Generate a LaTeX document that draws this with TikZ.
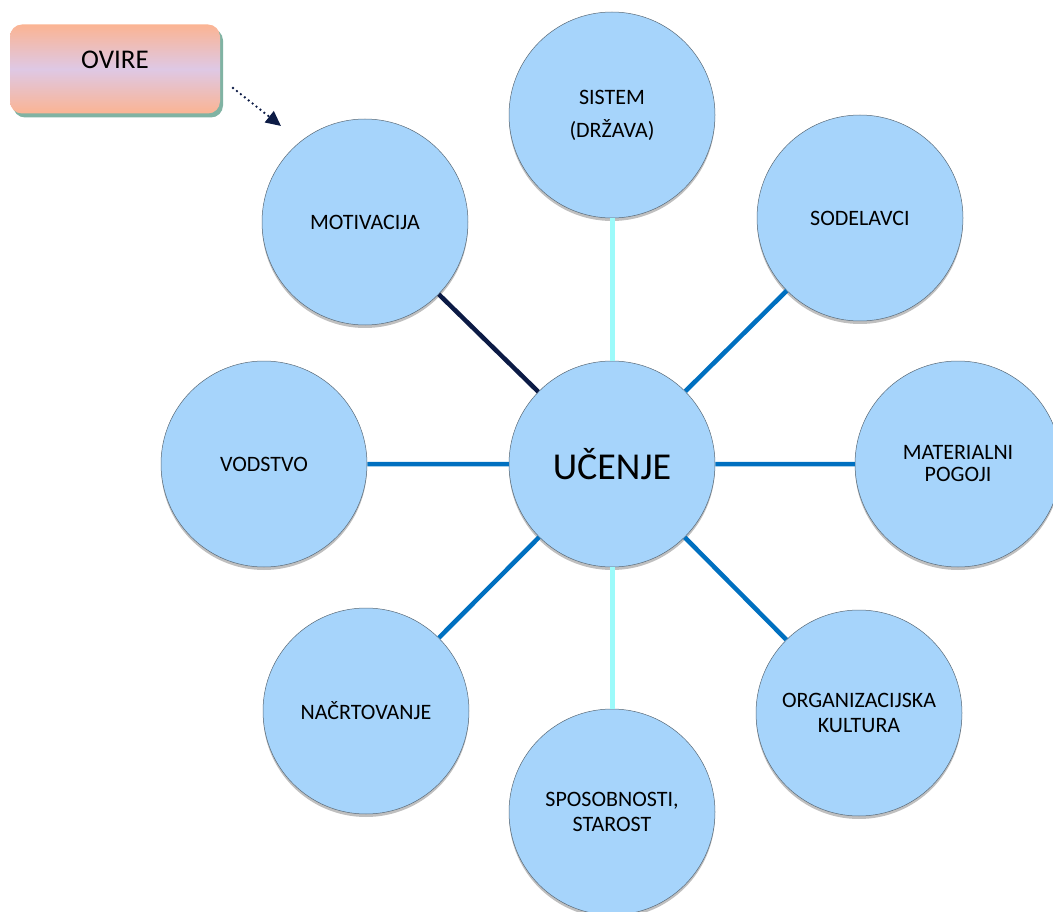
\documentclass[tikz,border=0pt]{standalone}
\usepackage{fontspec}
\setmainfont{Carlito}
\usetikzlibrary{arrows.meta,shadows}
\definecolor{bubfill}{RGB}{166,212,251}
\definecolor{bubline}{HTML}{5A6A78}
\definecolor{linkcyan}{HTML}{9CFAFA}
\definecolor{linkblue}{HTML}{0070C0}
\definecolor{linknavy}{HTML}{0C1B45}
\definecolor{ovorange}{HTML}{FBB493}
\definecolor{ovlilac}{HTML}{DEC8E5}
\definecolor{ovshade}{HTML}{80B3A3}

\begin{document}
\begin{tikzpicture}[x=1pt,y=-1pt,
  bub/.style={circle,draw=bubline,line width=0.5pt,fill=bubfill,
    minimum size=206pt,inner sep=0pt,align=center,
    font=\fontsize{22}{25}\selectfont,
    drop shadow={shadow xshift=0pt,shadow yshift=-3pt,opacity=.25,fill=black}},
  hub/.style={bub,font=\fontsize{38}{42}\selectfont},
  ovbox/.style={rounded corners=12pt,minimum width=210pt,minimum height=89pt,
    top color=ovorange,bottom color=ovorange,middle color=ovlilac,
    font=\fontsize{27}{30}\selectfont,text depth=18pt,
    drop shadow={shadow xshift=3pt,shadow yshift=-4pt,opacity=1,fill=ovshade}},
  link/.style={line width=4.5pt,linkblue},
  linkup/.style={line width=5pt,linkcyan},
  linkdark/.style={line width=4.5pt,linknavy},
  cue/.style={linknavy,line width=2.6pt,line cap=round,
    dash pattern=on 0pt off 5pt,
    -{Triangle[length=15pt,width=14pt]}}]
\useasboundingbox (0,0) rectangle (1053,912);
% centre and the eight topics
\node[hub] (ucenje) at (612,464) {UČENJE};
\node[bub] (sistem) at (612,115) {SISTEM\\[8pt](DRŽAVA)};
\node[bub] (motiv) at (365,222) {MOTIVACIJA};
\node[bub] (sodel) at (860,218) {SODELAVCI};
\node[bub] (vodstvo) at (264,464) {VODSTVO};
\node[bub] (mater) at (958,464) {MATERIALNI\\[-3pt]POGOJI};
\node[bub] (nacrt) at (366,711) {NAČRTOVANJE};
\node[bub] (organ) at (859,713) {ORGANIZACIJSKA\\KULTURA};
\node[bub] (sposob) at (612,812) {SPOSOBNOSTI,\\STAROST};
\draw[linkup] (ucenje)--(sistem) (ucenje)--(sposob);
\draw[linkdark] (ucenje)--(motiv);
\draw[link] (ucenje)--(sodel) (ucenje)--(vodstvo) (ucenje)--(mater)
  (ucenje)--(nacrt) (ucenje)--(organ);
% obstacles box
\node[ovbox] (ovire) at (115,69) {OVIRE};
\coordinate (cuefrom) at (233,88);
\coordinate (cueto) at (281,126);
\draw[cue] (cuefrom)--(cueto);
\end{tikzpicture}
\end{document}
